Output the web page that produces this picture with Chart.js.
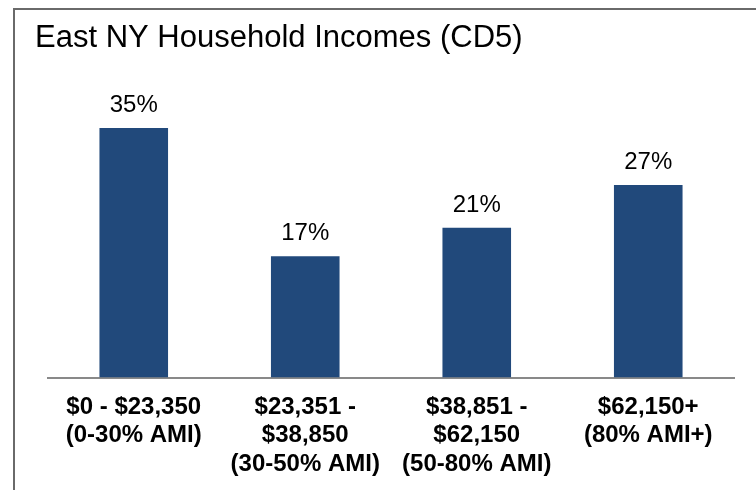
<!DOCTYPE html>
<html>
<head>
<meta charset="utf-8">
<style>
	html, body { margin: 0; padding: 0; background: #fff; }
	#frame { position: absolute; left: 13px; top: 8px; width: 800px; height: 600px;
		border-top: 2px solid #6a6a6a; border-left: 2px solid #6a6a6a; }
	#wrap { position: absolute; left: 0; top: 0; width: 756px; height: 490px; }
</style>
<script src="https://cdn.jsdelivr.net/npm/chart.js@4"></script>
</head>
<body>
<div id="frame"></div>
<div id="wrap"><canvas id="incomeChart" width="756" height="490"></canvas></div>
<script>
var incomeBands = [
	['$0 - $23,350', '(0-30% AMI)'],
	['$23,351 -', '$38,850', '(30-50% AMI)'],
	['$38,851 -', '$62,150', '(50-80% AMI)'],
	['$62,150+', '(80% AMI+)']
];
var householdShares = [35, 17, 21, 27];
var valueSuffix = '%';

var EastNY = EastNY || {};

EastNY.IncomeChart = (function() {

	function IncomeChart() {
		this.ctx = document.getElementById('incomeChart').getContext('2d');
	}

	// draws the percentage above each bar
	var barLabels = {
		id: 'barLabels',
		afterDatasetsDraw: function(chart) {
			var ctx = chart.ctx;
			var meta = chart.getDatasetMeta(0);
			ctx.save();
			ctx.font = '24px "Liberation Sans", Arial, sans-serif';
			ctx.fillStyle = '#000';
			ctx.textAlign = 'center';
			ctx.textBaseline = 'alphabetic';
			meta.data.forEach(function(bar, i) {
				ctx.fillText(householdShares[i] + valueSuffix, bar.x, bar.y - 16);
			});
			ctx.restore();
		}
	};

	IncomeChart.prototype.iniciar = function() {
		new Chart(this.ctx, {
			type: 'bar',
			data: {
				labels: incomeBands,
				datasets: [{
					data: householdShares,
					backgroundColor: '#21497B',
					borderWidth: 0,
					barPercentage: 0.4,
					categoryPercentage: 1
				}]
			},
			options: {
				responsive: false,
				animation: false,
				layout: { padding: { top: 0, left: 35, right: 22, bottom: -4 } },
				plugins: {
					legend: { display: false },
					tooltip: { enabled: false },
					title: {
						display: true,
						text: 'East NY Household Incomes (CD5)',
						align: 'start',
						color: '#000',
						font: { family: '"Liberation Sans", Arial, sans-serif', size: 31, weight: 'normal', lineHeight: 1.2 },
						padding: { top: 20, bottom: 35 }
					}
				},
				scales: {
					x: {
						grid: { display: false, drawTicks: false },
						border: { display: true, color: '#898989', width: 2 },
						ticks: {
							color: '#000',
							padding: 15,
							maxRotation: 0,
							autoSkip: false,
							font: { family: '"Liberation Sans", Arial, sans-serif', size: 24, weight: 'bold', lineHeight: 1.2 }
						}
					},
					y: {
						min: 0,
						max: 40,
						grid: { display: false, drawTicks: false },
						border: { display: false },
						ticks: { display: false },
						afterFit: function(scale) { scale.width = 13; }
					}
				}
			},
			plugins: [barLabels]
		});
	};

	return IncomeChart;

}());

var incomeChart = new EastNY.IncomeChart();
incomeChart.iniciar();
</script>
</body>
</html>
